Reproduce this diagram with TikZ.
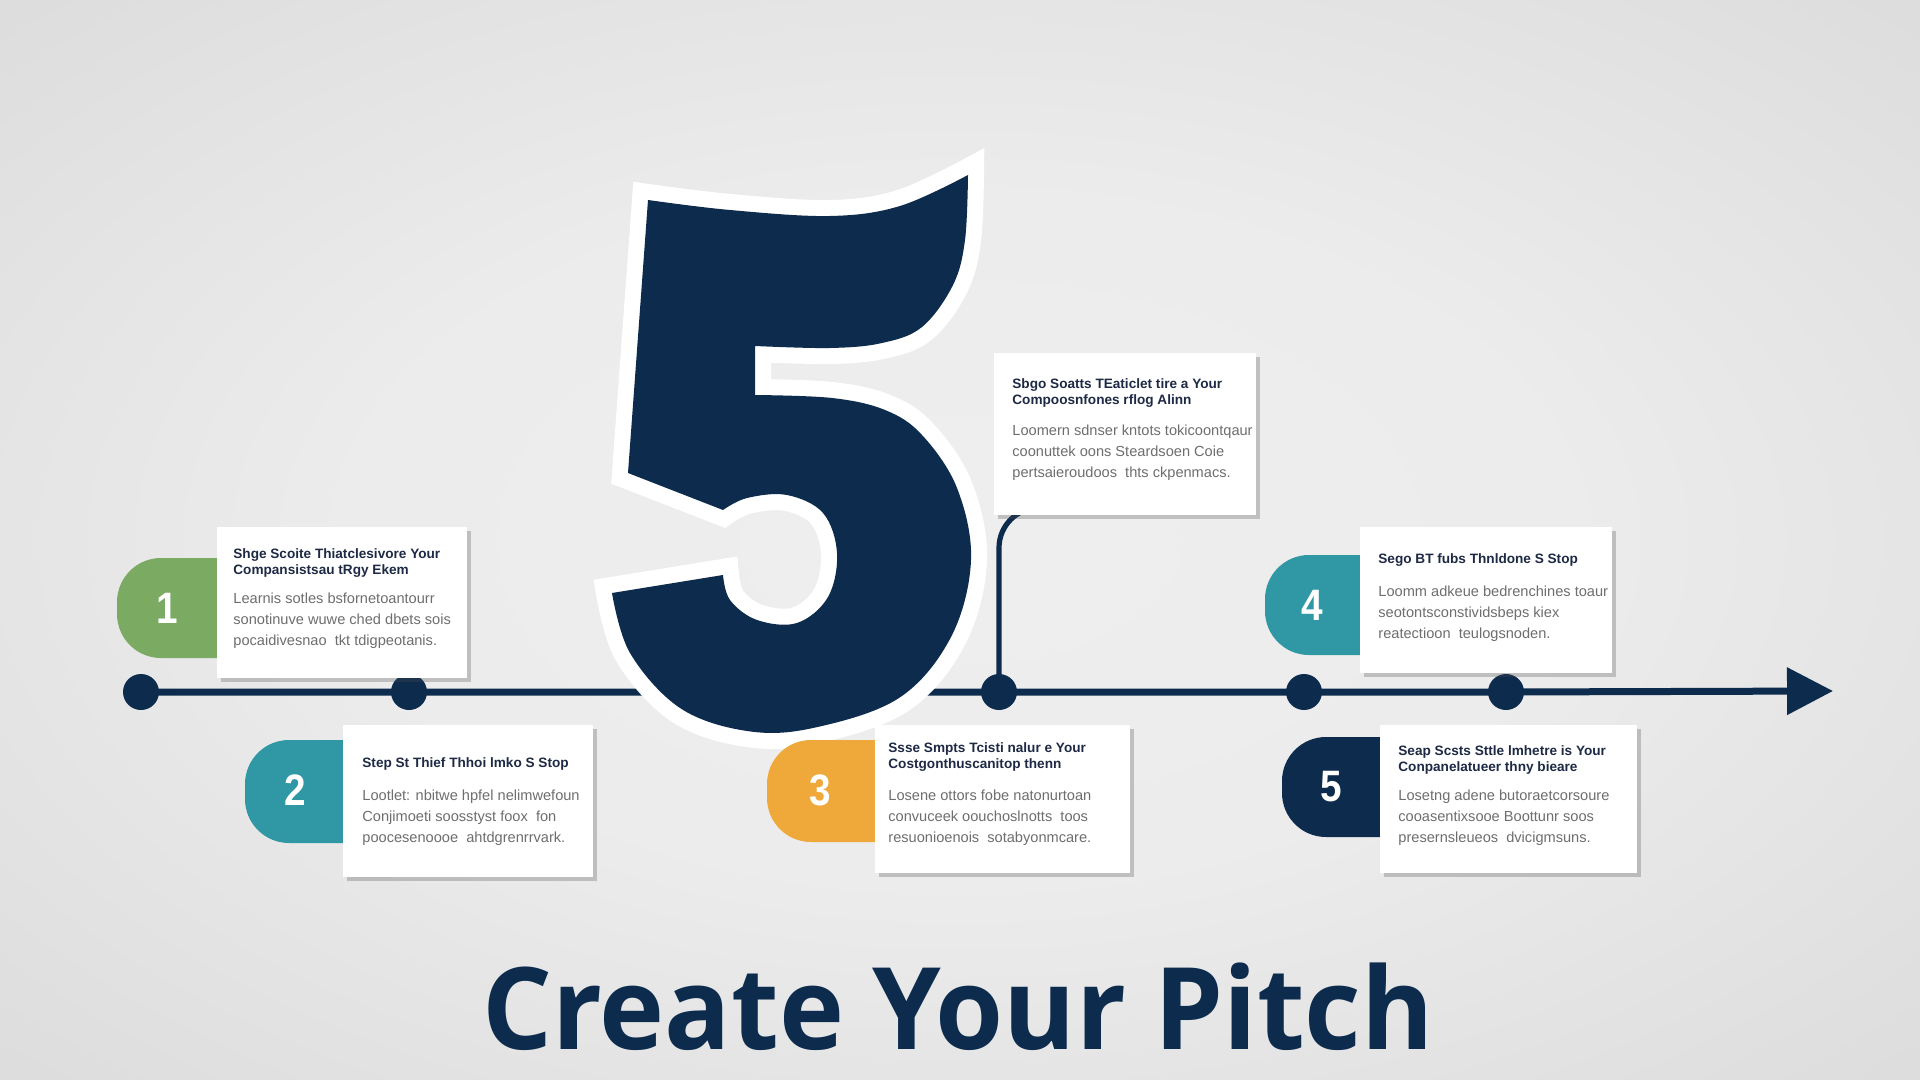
\documentclass[tikz,border=0pt]{standalone}
\usepackage{fontspec}
\setmainfont{Liberation Sans}
\newfontfamily\headfont{Open Sans}
\usetikzlibrary{arrows.meta,calc,shadows}
\definecolor{navy}{HTML}{0C2B4D}
\definecolor{ink}{HTML}{1E2A45}
\definecolor{bodygray}{HTML}{6E6E6E}
\definecolor{tabgreen}{HTML}{7BAA63}
\definecolor{tabteal}{HTML}{2F98A4}
\definecolor{taborange}{HTML}{EFA93B}
\pgfdeclarelayer{back}
\pgfdeclarelayer{mid}
\pgfsetlayers{back,mid,main}
\pgfdeclareradialshading{bgshade}{\pgfpoint{0bp}{0bp}}{rgb(0bp)=(0.935,0.935,0.935); rgb(16bp)=(0.925,0.925,0.925); rgb(40bp)=(0.85,0.85,0.85); rgb(58bp)=(0.785,0.785,0.785); rgb(100bp)=(0.77,0.77,0.77)}
\newcommand\cardtexts[6]{%
  \node[ttl] (#1t) at ($(#1.north west)+(#2,#3)$) {#5};
  \node[bdy] (#1b) at ($(#1.north west)+(#2,#4)$) {#6};}
\newcommand\steptab[5]{% color, left, top, bottom, right
  \fill[#1, rounded corners=22pt] (#5,#3) -- (#2,#3) -- (#2,#4) -- (#5,#4) -- cycle;}
\begin{document}
\begin{tikzpicture}[x=0.5pt,y=-0.5pt,
  dot/.style={circle, fill=navy, minimum size=18pt, inner sep=0pt},
  tline/.style={draw=navy, line width=3.5pt, -{Triangle[length=23pt,width=23pt]}},
  conn/.style={draw=navy, line width=2.6pt, rounded corners=20pt},
  card/.style={fill=white, anchor=north west, inner sep=0pt,
     drop shadow={shadow xshift=1.6pt, shadow yshift=-1.6pt, opacity=.28, fill=black!70}},
  ttl/.style={anchor=north west, inner sep=0pt, align=left, text=ink,
     font=\fontsize{6.8}{8.2}\selectfont\bfseries},
  bdy/.style={anchor=north west, inner sep=0pt, align=left, text=bodygray,
     font=\fontsize{7.3}{10.5}\selectfont},
  num/.style={text=white, inner sep=0pt, xscale=.88, font=\fontsize{22}{22}\selectfont\bfseries},
  heading/.style={text=navy, inner sep=0pt, anchor=base, xscale=.965,
     font=\headfont\fontsize{57}{60}\selectfont\bfseries}]
\useasboundingbox (0,0) rectangle (1920,1080);
\begin{pgfonlayer}{back}
\shade[shading=bgshade] (0,0) rectangle (1920,1080);
\end{pgfonlayer}

% timeline
\node[dot] (d1) at (141,692) {};
\node[dot] (d2) at (409,692) {};
\node[dot] (d3) at (999,692) {};
\node[dot] (d4) at (1304,692) {};
\node[dot] (d5) at (1506,692) {};
\coordinate (tip) at (1833,691);
\draw[tline] (d1.center) -- (d2.center) -- (d3.center) -- (d4.center) -- (d5.center) -- (tip);

% big five
\fill[navy, preaction={draw=white, line width=16pt, line join=miter}]
  (648,200)
  -- plot[smooth, tension=.6] coordinates {(648,200) (730,210) (830,216) (900,206) (968,175)}
  -- plot[smooth, tension=.6] coordinates {(968,175) (965,240) (953,285) (922,327) (882,343) (830,348) (755,346)}
  -- (755,395)
  -- plot[smooth, tension=.6] coordinates {(755,395) (832,398) (885,410) (922,435) (957,488) (971,560) (951,637) (899,698) (813,728) (747,731) (680,708) (630,653) (612,593)}
  -- (723,575)
  -- plot[smooth, tension=.6] coordinates {(723,575) (730,600) (757,620) (797,623) (828,597) (837,553) (823,513) (787,495) (747,498) (723,510)}
  -- (628,473) -- cycle;

% tabs
\steptab{tabgreen}{117}{558}{658}{300}
\steptab{tabteal}{245}{740}{843}{430}
\steptab{taborange}{767}{740}{842}{960}
\steptab{tabteal}{1265}{555}{655}{1450}
\steptab{navy}{1282}{737}{837}{1470}

% cards
\node[card, minimum width=131pt, minimum height=81pt] (cC) at (994,353) {};
\node[card, minimum width=125pt, minimum height=75.5pt] (c1) at (217,527) {};
\node[card, minimum width=125pt, minimum height=76pt] (c2) at (343,725) {};
\node[card, minimum width=127.5pt, minimum height=74pt] (c3) at (875,725) {};
\node[card, minimum width=126pt, minimum height=73pt] (c4) at (1360,527) {};
\node[card, minimum width=128.5pt, minimum height=74pt] (c5) at (1380,725) {};

% connector from stage 3 dot up to the upper card
\begin{pgfonlayer}{mid}
\coordinate (k) at ($(cC.south west)+(90,-8)$);
\draw[conn] (d3.center) |- (k);
\end{pgfonlayer}

\cardtexts{c1}{16}{21}{66}{Shge Scoite Thiatclesivore Your\\Compansistsau tRgy Ekem}{Learnis sotles bsfornetoantourr\\sonotinuve wuwe ched dbets sois\\pocaidivesnao\ \ tkt tdigpeotanis.}
\cardtexts{c2}{19}{32}{65}{Step St Thief Thhoi lmko S Stop}{Lootlet: nbitwe hpfel nelimwefoun\\Conjimoeti soosstyst foox\ \ fon\\poocesenoooe\ \ ahtdgrenrrvark.}
\cardtexts{c3}{13}{17}{65}{Ssse Smpts Tcisti nalur e Your\\Costgonthuscanitop thenn}{Losene ottors fobe natonurtoan\\convuceek oouchoslnotts\ \ toos\\resuonioenois\ \ sotabyonmcare.}
\cardtexts{cC}{18}{25}{72}{Sbgo Soatts TEaticlet tire a Your\\Compoosnfones rflog Alinn}{Loomern sdnser kntots tokicoontqaur\\coonuttek oons Steardsoen Coie\\pertsaieroudoos\ \ thts ckpenmacs.}
\cardtexts{c4}{18}{26}{59}{Sego BT fubs Thnldone S Stop}{Loomm adkeue bedrenchines toaur\\seotontsconstividsbeps kiex\\reatectioon\ \ teulogsnoden.}
\cardtexts{c5}{18}{20}{65}{Seap Scsts Sttle lmhetre is Your\\Conpanelatueer thny bieare}{Losetng adene butoraetcorsoure\\cooasentixsooe Boottunr soos\\presernsleueos\ \ dvicigmsuns.}

% numbers
\node[num] (n1) at (167,608) {1};
\node[num] (n2) at (295,790) {2};
\node[num] (n3) at (820,790) {3};
\node[num] (n4) at (1312,605) {4};
\node[num] (n5) at (1331,787) {5};

% heading
\node[heading] (title) at (958,1049) {Create Your Pitch};
\end{tikzpicture}
\end{document}
